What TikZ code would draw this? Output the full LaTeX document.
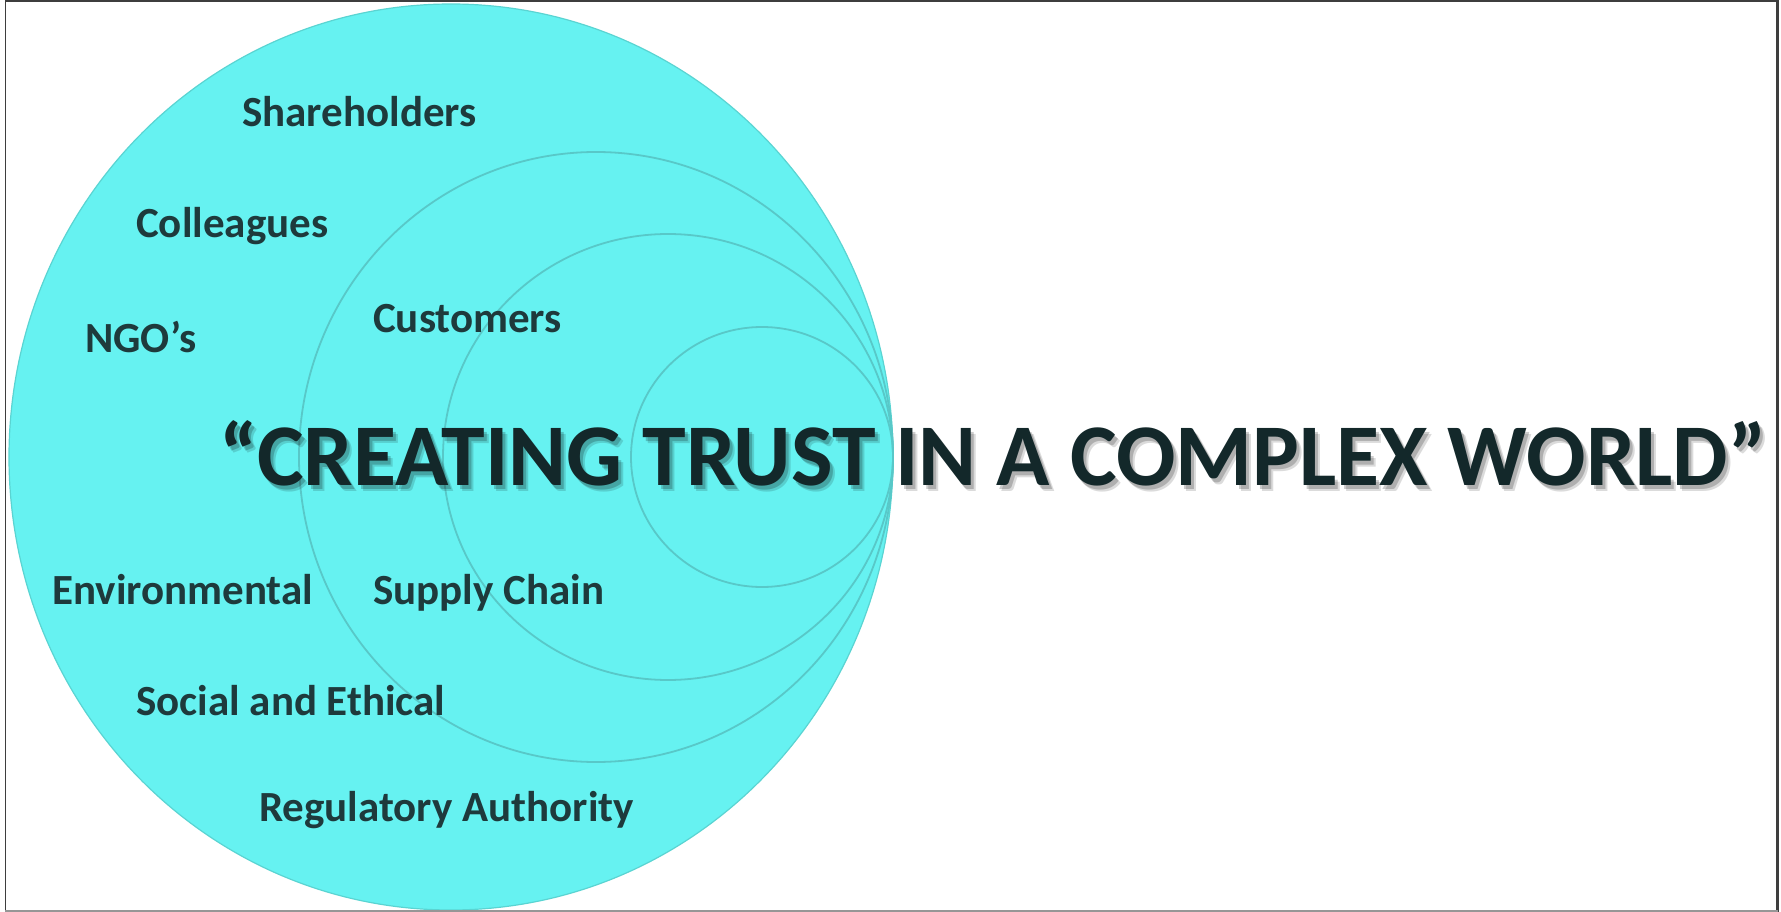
\documentclass[tikz,border=0pt]{standalone}
\usepackage{fontspec}
\setmainfont{Carlito}
\definecolor{disc}{RGB}{102,242,241}
\definecolor{discedge}{RGB}{90,212,210}
\definecolor{ring}{RGB}{88,200,200}
\definecolor{labeltext}{RGB}{30,58,60}
\definecolor{headline}{RGB}{19,40,42}
\definecolor{frameedge}{RGB}{62,62,62}
\definecolor{framebottom}{RGB}{150,150,150}
\newcommand{\trustheadline}{“CREATING TRUST IN A COMPLEX WORLD”}
\begin{document}
\begin{tikzpicture}[x=1pt,y=-1pt,
  stakeholder/.style={font=\fontsize{43}{50}\selectfont\bfseries, text=labeltext, inner sep=0pt, anchor=base west},
  headlinefont/.style={font=\fontsize{88}{100}\selectfont\bfseries, inner sep=0pt, anchor=base},
  ringline/.style={draw=ring, line width=1.8pt}
]
\useasboundingbox (0,0) rectangle (1781,912);
\fill[white] (0,0) rectangle (1781,912);

% outer disc
\draw[discedge, fill=disc, line width=1.2pt] (451,457) ellipse [x radius=442pt, y radius=453pt];

% inner rings, all touching the disc on its right side
\draw[ringline] (596,457) ellipse [x radius=297pt, y radius=305pt];
\draw[ringline] (668,457) ellipse [x radius=225pt, y radius=223pt];
\draw[ringline] (762,457) ellipse [x radius=131pt, y radius=130pt];

% stakeholder labels
\node[stakeholder] (shareholders) at (242,127) {Shareholders};
\node[stakeholder] (colleagues) at (136,238) {Colleagues};
\node[stakeholder] (ngos) at (85,352) {NGO’s};
\node[stakeholder] (customers) at (373,332) {Customers};
\node[stakeholder] (environmental) at (52,604) {Environmental};
\node[stakeholder] (supply) at (373,604) {Supply Chain};
\node[stakeholder] (social) at (136,715) {Social and Ethical};
\node[stakeholder] (regulatory) at (259,821) {Regulatory Authority};

% headline; the shadow sits in the same node, offset down and right
\node[headlinefont, text=headline] (headline) at (993,485)
  {\rlap{\pgfsetfillopacity{0.2}\hspace{3pt}\raisebox{-4pt}{\color{black}\trustheadline}\pgfsetfillopacity{1}}%
   \rlap{\pgfsetfillopacity{0.14}\hspace{5pt}\raisebox{-6pt}{\color{black}\trustheadline}\pgfsetfillopacity{1}}%
   \trustheadline};

% frame
\draw[frameedge, line width=2pt] (5,1) -- (1778,1);
\draw[frameedge, line width=1.6pt] (5.5,1) -- (5.5,911);
\draw[frameedge, line width=3pt] (1777.5,0) -- (1777.5,912);
\draw[framebottom, line width=2pt] (5,911) -- (1778,911);
\end{tikzpicture}
\end{document}
